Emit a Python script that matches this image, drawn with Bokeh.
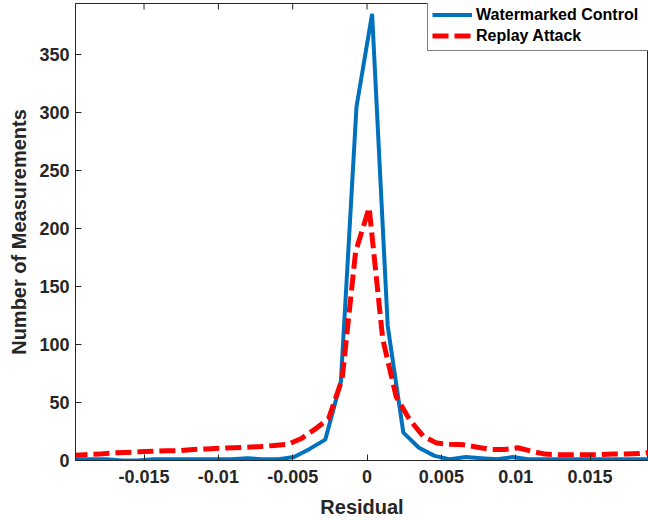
from math import pi
from bokeh.plotting import figure
from bokeh.models import (Range1d, FixedTicker, PrintfTickFormatter,
                          Legend, LegendItem, ColumnDataSource)
from bokeh.embed import file_html
from bokeh.resources import INLINE

# ---- data ----
wm_residual = [-0.01961, -0.01856, -0.01751, -0.01646, -0.01541, -0.01436, -0.01331,
               -0.01226, -0.01121, -0.01016, -0.00911, -0.00806, -0.00701, -0.00596,
               -0.00491, -0.00386, -0.00281, -0.00176, -0.00071, 0.00034, 0.00139,
               0.00244, 0.00349, 0.00454, 0.00559, 0.00664, 0.00769, 0.00874, 0.00979,
               0.01084, 0.01189, 0.01294, 0.01399, 0.01504, 0.01609, 0.01714, 0.01819,
               0.01924]
wm_count = [1, 1, 1, 0, 0, 1, 1, 1, 1, 1, 1, 2, 1, 1, 3, 10, 18, 68, 305, 385,
            116, 24, 11, 4, 1, 3, 2, 1, 3, 1, 1, 1, 1, 1, 1, 1, 1, 1]

ra_residual = [-0.01988, -0.01897, -0.01806, -0.01715, -0.01624, -0.01533, -0.01442,
               -0.01351, -0.01260, -0.01169, -0.01078, -0.00987, -0.00896, -0.00805,
               -0.00714, -0.00623, -0.00532, -0.00441, -0.00350, -0.00259, -0.00168,
               -0.00077, 0.00014, 0.00105, 0.00196, 0.00287, 0.00378, 0.00469, 0.00560,
               0.00651, 0.00742, 0.00833, 0.00924, 0.01015, 0.01106, 0.01197, 0.01288,
               0.01379, 0.01470, 0.01561, 0.01652, 0.01743, 0.01834, 0.01925]
ra_count = [4.5, 5, 5.5, 6.5, 7, 7.5, 8, 8.5, 8.5, 9.5, 10, 10.5, 11, 11.5, 12, 13,
            14, 19, 27, 36, 70, 180, 218, 105, 55, 35, 21, 15, 14, 13.5, 11.5, 9.5,
            9.5, 11, 8, 5.5, 5, 5, 5, 5, 5.5, 5.5, 6, 7.5]

x_ticks = [-0.015, -0.01, -0.005, 0, 0.005, 0.01, 0.015]
y_ticks = [0, 50, 100, 150, 200, 250, 300, 350]

series_names = ["Watermarked Control", "Replay Attack"]

X_MIN, X_MAX = -0.01961, 0.01893
Y_MIN, Y_MAX = 0, 394

FONT = "Liberation Sans"
AX = "#262626"

p = figure(width=648, height=520, output_backend="svg", toolbar_location=None,
           x_range=Range1d(X_MIN, X_MAX), y_range=Range1d(Y_MIN, Y_MAX),
           min_border_left=75, min_border_right=0, min_border_top=3,
           min_border_bottom=59)
p.grid.visible = False
p.outline_line_color = AX
p.outline_line_width = 1
p.background_fill_color = "white"
p.border_fill_color = "white"

src_wm = ColumnDataSource(dict(x=wm_residual, y=wm_count))
src_ra = ColumnDataSource(dict(x=ra_residual, y=ra_count))
r1 = p.line("x", "y", source=src_wm, line_color="#0072BD", line_width=4)
r2 = p.line("x", "y", source=src_ra, line_color="#FF0000", line_width=5,
            line_dash="16 6")

# mirrored inward ticks on the top edge of the box
p.scatter(x=x_ticks, y=[Y_MAX] * len(x_ticks), marker="dash", angle=pi / 2,
          size=12, line_color=AX, line_width=1)

for ax in (p.xaxis[0], p.yaxis[0]):
    ax.axis_line_color = AX
    ax.major_tick_line_color = AX
    ax.major_tick_in = 6
    ax.major_tick_out = 0
    ax.minor_tick_line_color = None
    ax.major_label_text_font = FONT
    ax.major_label_text_font_style = "bold"
    ax.major_label_text_font_size = "18px"
    ax.major_label_text_color = AX
    ax.axis_label_text_font = FONT
    ax.axis_label_text_font_style = "bold"
    ax.axis_label_text_font_size = "20px"
    ax.axis_label_text_color = AX

p.xaxis[0].ticker = FixedTicker(ticks=x_ticks)
p.xaxis[0].formatter = PrintfTickFormatter(format="%g")
p.xaxis[0].axis_label = "Residual"
p.xaxis[0].major_label_standoff = 9
p.xaxis[0].axis_label_standoff = 10

p.yaxis[0].ticker = FixedTicker(ticks=y_ticks)
p.yaxis[0].axis_label = "Number of Measurements"
p.yaxis[0].major_label_standoff = 6
p.yaxis[0].axis_label_standoff = 6

legend = Legend(items=[LegendItem(label=series_names[0], renderers=[r1]),
                       LegendItem(label=series_names[1], renderers=[r2])],
                location=(352, 409), margin=0, padding=4, spacing=0,
                glyph_width=40, glyph_height=21, label_height=21,
                label_width=190, label_standoff=4, label_text_font=FONT,
                label_text_font_style="bold", label_text_font_size="16px",
                label_text_color="black", border_line_color="black",
                border_line_width=1, background_fill_color="white",
                background_fill_alpha=1)
p.add_layout(legend)

open("out.html", "w").write(file_html(p, INLINE))
